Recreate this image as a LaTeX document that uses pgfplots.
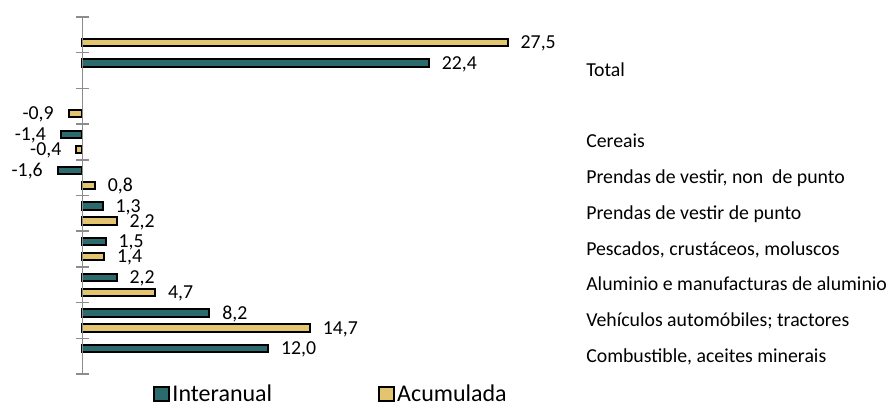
\documentclass[border=0pt]{standalone}
\usepackage{pgfplots}
\pgfplotsset{compat=1.18}
\usepackage{fontspec}
\setmainfont{Carlito}
\definecolor{teal1}{HTML}{2B6B6D}
\definecolor{tan1}{HTML}{E2C56E}
\definecolor{axgray}{HTML}{8C8C8C}
\newcommand{\lblfont}{\fontsize{19.8}{22}\selectfont}
\begin{document}
\begin{tikzpicture}
\begin{axis}[
  scale only axis, width=886pt, height=408pt,
  xmin=-5.336, xmax=51.97, ymin=-0.476, ymax=10.952, y dir=reverse,
  axis lines=none,
  xbar, bar width=7.3pt, bar shift=0pt,
  point meta=explicit symbolic,
  clip=false,
  legend columns=2,
  legend style={at={(0.173,0.035)}, anchor=west, draw=none, fill=none, inner sep=0pt,
    font=\fontsize{24}{24}\selectfont, cells={anchor=west},
    /tikz/every even column/.append style={column sep=104pt}},
  legend image code/.code={\draw[#1, line width=2pt] (0pt,-7pt) rectangle (15pt,7pt);},
  pos/.style={nodes near coords={\pgfplotspointmeta},
    every node near coord/.style={anchor=west, font=\lblfont, inner xsep=12pt, inner ysep=0pt, text=black, yshift=-1pt}},
  neg/.style={nodes near coords={\pgfplotspointmeta},
    every node near coord/.style={anchor=east, font=\lblfont, inner xsep=14pt, inner ysep=0pt, text=black, yshift=-1pt}},
]
\addplot[fill=teal1, draw=black, line width=2pt, pos] coordinates {
  (22.4,1.29) [22,4]
  (1.3,5.29) [1,3]
  (1.5,6.29) [1,5]
  (2.2,7.29) [2,2]
  (8.2,8.29) [8,2]
  (12.0,9.29) [12,0]
};
\addlegendentry{Interanual}
\addplot[fill=tan1, draw=black, line width=2pt, pos] coordinates {
  (27.5,0.71) [27,5]
  (0.8,4.71) [0,8]
  (2.2,5.71) [2,2]
  (1.4,6.71) [1,4]
  (4.7,7.71) [4,7]
  (14.7,8.71) [14,7]
};
\addlegendentry{Acumulada}
\addplot[fill=teal1, draw=black, line width=2pt, neg, forget plot] coordinates {
  (-1.4,3.29) [-1,4]
  (-1.6,4.29) [-1,6]
};
\addplot[fill=tan1, draw=black, line width=2pt, neg, forget plot] coordinates {
  (-0.9,2.71) [-0,9]
  (-0.4,3.71) [-0,4]
};
\draw[axgray, line width=1.5pt] (axis cs:0,0) -- (axis cs:0,10);
\pgfplotsinvokeforeach{0,...,10}{
  \draw[axgray, line width=1.5pt] ([xshift=-6pt]axis cs:0,#1) -- ([xshift=6pt]axis cs:0,#1);
}
\begin{scope}[every node/.style={anchor=base west, font=\lblfont, inner sep=0pt, yshift=-6pt}]
\node at (axis cs:32.57,1.5) {Total};
\node at (axis cs:32.57,3.5) {Cereais};
\node at (axis cs:32.57,4.5) {Prendas de vestir, non\ \ de punto};
\node at (axis cs:32.57,5.5) {Prendas de vestir de punto};
\node at (axis cs:32.57,6.5) {Pescados, crustáceos, moluscos};
\node at (axis cs:32.57,7.5) {Aluminio e manufacturas de aluminio};
\node at (axis cs:32.57,8.5) {Vehículos automóbiles; tractores};
\node at (axis cs:32.57,9.5) {Combustible, aceites minerais};
\end{scope}
\end{axis}
\pgfresetboundingbox
\path[use as bounding box] (current axis.south west) rectangle (current axis.north east);
\end{tikzpicture}
\end{document}
